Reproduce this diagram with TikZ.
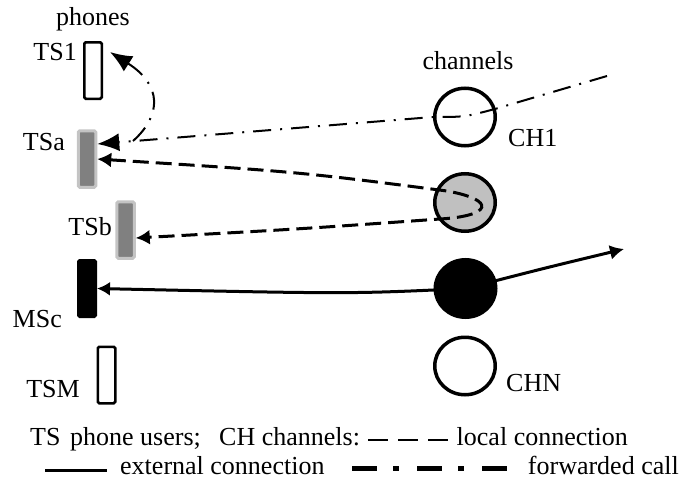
\documentclass[tikz,border=0pt]{standalone}
\usepackage{fontspec}
\setmainfont{Liberation Serif}
\usetikzlibrary{arrows.meta}
\usetikzlibrary{shapes.geometric}
\usetikzlibrary{positioning}

\definecolor{tsgray}{RGB}{128,128,128}
\definecolor{tsrim}{RGB}{196,196,196}
\definecolor{chgray}{RGB}{192,192,192}

\begin{document}
\begin{tikzpicture}[x=1pt,y=-1pt,font=\rmfamily\fontsize{26}{30}\selectfont,
  phone/.style={draw,line width=2.5pt,rounded corners=1.5pt,minimum width=17.5pt,minimum height=56.5pt,inner sep=0pt},
  chan/.style={ellipse,draw,line width=3.5pt,minimum width=60.5pt,minimum height=57.5pt,inner sep=0pt},
  tag/.style={inner sep=0pt},
  localcall/.style={line width=3pt,dash pattern=on 16pt off 7pt},
  extcall/.style={line width=3pt},
  fwdcall/.style={line width=2pt,dash pattern=on 18pt off 9pt on 2pt off 9pt},
  fwdtip/.style={-{Latex[length=22pt,width=18pt]}},
  localtip/.style={{Latex[length=14pt,width=15pt]}-{Latex[length=14pt,width=15pt]}},
  exttip/.style={{Latex[length=13pt,width=14pt]}-{Latex[length=14pt,width=15pt]}}]
  \useasboundingbox (0,0) rectangle (681,479);

  % phones
  \node[phone] (ts1) at (93,70.5) {};
  \node[phone,draw=tsrim,fill=tsgray,line width=3pt] (tsa) at (87,159) {};
  \node[phone,draw=tsrim,fill=tsgray,line width=3pt] (tsb) at (125.5,230) {};
  \node[phone,fill=black] (msc) at (87,288.5) {};
  \node[phone] (tsm) at (106.5,375) {};

  \node[tag,anchor=base] (phones) at (93,26) {phones};
  \node[tag,anchor=base east] (ts1lbl) at (77,60) {TS1};
  \node[tag,anchor=base east] (tsalbl) at (65,150) {TSa};
  \node[tag,anchor=base east] (tsblbl) at (112,235) {TSb};
  \node[tag,anchor=base east] (msclbl) at (62,327) {MSc};
  \node[tag,anchor=base east] (tsmlbl) at (80,397) {TSM};

  % channels
  \node[chan] (ch1) at (465,117) {};
  \node[chan,fill=chgray] (chg) at (465,202.5) {};
  \node[chan,fill=black] (chb) at (465.5,288.5) {};
  \node[chan] (chn) at (465,366) {};

  \node[tag,anchor=base] (channels) at (468,69) {channels};
  \node[tag,anchor=base west] (ch1lbl) at (508,146) {CH1};
  \node[tag,anchor=base west] (chnlbl) at (506,391) {CHN};

  \coordinate (fwdin) at (607,76);
  \coordinate (fwdsplit) at (133,141);
  \coordinate (extout) at (624,249);

  \draw[fwdcall,fwdtip] (fwdin) -- (ch1.15) .. controls (ch1.center) .. (ch1.west) -- ([yshift=15pt]tsa.east);
  \draw[fwdcall,fwdtip] (fwdsplit) .. controls (162,115) and (162,85) .. ([xshift=7pt,yshift=-11pt]ts1.north east);
  \draw[localcall,localtip] (tsa.east) .. controls (300,172) .. (447,191) .. controls (497,200) and (492,216) .. (440,219) .. controls (300,229) .. ([yshift=-8pt]tsb.east);
  \draw[extcall,exttip] (msc.east) .. controls (350,294) .. (chb.center) .. controls (545,268) .. (extout);

  % legend
  \node[tag,anchor=base west] (keyts) at (30,445) {TS};
  \node[tag,anchor=base west] (keyusers) at (70,445) {phone users;};
  \node[tag,anchor=base west] (keych) at (219,445) {CH channels:};
  \node[tag,anchor=base east] (keylocal) at (628,445) {local connection};
  \node[tag,anchor=base west] (keyext) at (120,474) {external connection};
  \node[tag,anchor=base east] (keyfwd) at (679,474) {forwarded call};
  \coordinate (la) at (368,440);
  \coordinate (lb) at (448,440);
  \coordinate (ea) at (45,470);
  \coordinate (eb) at (107,470);
  \coordinate (fa) at (352,468);
  \coordinate (fb) at (507,468);
  \draw[line width=2.2pt,dash pattern=on 20pt off 10pt] (la) -- (lb);
  \draw[extcall] (ea) -- (eb);
  \draw[line width=5pt,dash pattern=on 25pt off 16pt on 6pt off 18pt] (fa) -- (fb);
\end{tikzpicture}
\end{document}
